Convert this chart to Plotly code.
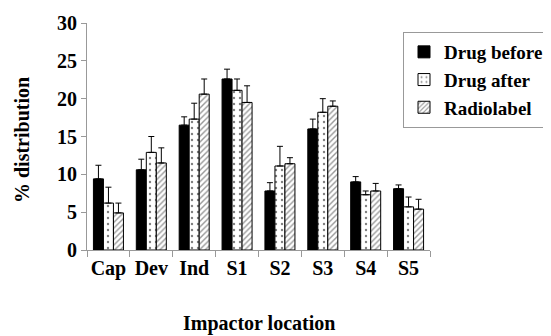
import plotly.graph_objects as go

categories = ["Cap", "Dev", "Ind", "S1", "S2", "S3", "S4", "S5"]
series_names = ["Drug before", "Drug after", "Radiolabel"]
drug_before = [9.4, 10.6, 16.5, 22.6, 7.8, 16.0, 9.0, 8.1]
drug_before_err = [1.8, 1.4, 1.1, 1.3, 1.1, 1.3, 0.7, 0.5]
drug_after = [6.2, 12.9, 17.3, 21.1, 11.1, 18.2, 7.3, 5.7]
drug_after_err = [2.1, 2.1, 2.1, 1.5, 2.6, 1.8, 0.5, 1.3]
radiolabel = [4.9, 11.5, 20.6, 19.5, 11.4, 19.0, 7.8, 5.4]
radiolabel_err = [1.3, 2.0, 2.0, 2.2, 0.8, 0.7, 1.0, 1.3]
y_ticks = [0, 5, 10, 15, 20, 25, 30]

FONT = "Liberation Serif, Times New Roman, serif"

def err(vals):
    return dict(type="data", array=vals, arrayminus=[0] * len(vals), symmetric=False,
                color="black", thickness=1, width=3)

fig = go.Figure()
fig.add_trace(go.Bar(
    x=categories, y=drug_before, name="<b>" + series_names[0] + "</b>", legendgroup="a",
    marker=dict(color="black", line=dict(color="black", width=1)),
    error_y=err(drug_before_err)))
fig.add_trace(go.Bar(
    x=categories, y=drug_after, name="<b>" + series_names[1] + "</b>", legendgroup="b",
    marker=dict(color="white", line=dict(color="black", width=1),
                pattern=dict(shape=".", fgcolor="black", bgcolor="white", size=6, solidity=0.12)),
    error_y=err(drug_after_err)))
fig.add_trace(go.Bar(
    x=categories, y=radiolabel, name="<b>" + series_names[2] + "</b>", legendgroup="c",
    marker=dict(color="white", line=dict(color="black", width=1),
                pattern=dict(shape="/", fgcolor="#333", bgcolor="white", size=4, solidity=0.35)),
    error_y=err(radiolabel_err)))

# page body has an 8px margin, so the figure is 8px smaller and offset
W, H = 543, 328
L, T, PW, PH = 79, 15, 343, 227

fig.update_layout(
    width=W, height=H,
    margin=dict(l=L, r=W - L - PW, t=T, b=H - T - PH, autoexpand=False),
    paper_bgcolor="white", plot_bgcolor="white",
    barmode="group", bargap=0.3, bargroupgap=0.0,
    font=dict(family=FONT, size=18, color="black"),
    showlegend=True,
    legend=dict(x=(395 - L) / PW, y=(PH - 9) / PH, xanchor="left", yanchor="top",
                bordercolor="#999", borderwidth=1, bgcolor="white",
                font=dict(family=FONT, size=19, color="black"),
                tracegroupgap=7, itemwidth=30, traceorder="normal"),
    xaxis=dict(showline=True, linecolor="#999", linewidth=1, ticks="outside",
               tickson="boundaries", ticklen=6, tickcolor="#999", tickangle=0,
               automargin=False,
               tickvals=categories, ticktext=["<b>" + c + "</b>" for c in categories],
               tickfont=dict(family=FONT, size=20), showgrid=False),
    yaxis=dict(range=[0, 30], tickvals=y_ticks, ticktext=["<b>%d</b>" % v for v in y_ticks],
               showline=True, linecolor="#999", automargin=False,
               linewidth=1, ticks="outside", ticklen=5, tickcolor="#999",
               tickfont=dict(family=FONT, size=20), showgrid=False,
               zeroline=False),
    annotations=[
        dict(text="<b>% distribution</b>", x=(14 - L) / PW, y=(PH - 117) / PH,
             xref="paper", yref="paper", showarrow=False,
             textangle=-90, font=dict(family=FONT, size=20), xanchor="center", yanchor="middle"),
        dict(text="<b>Impactor location</b>", x=0.5, y=(PH - 301) / PH,
             xref="paper", yref="paper", showarrow=False,
             font=dict(family=FONT, size=20), xanchor="center", yanchor="middle"),
    ],
)

fig.write_html("out.html")
